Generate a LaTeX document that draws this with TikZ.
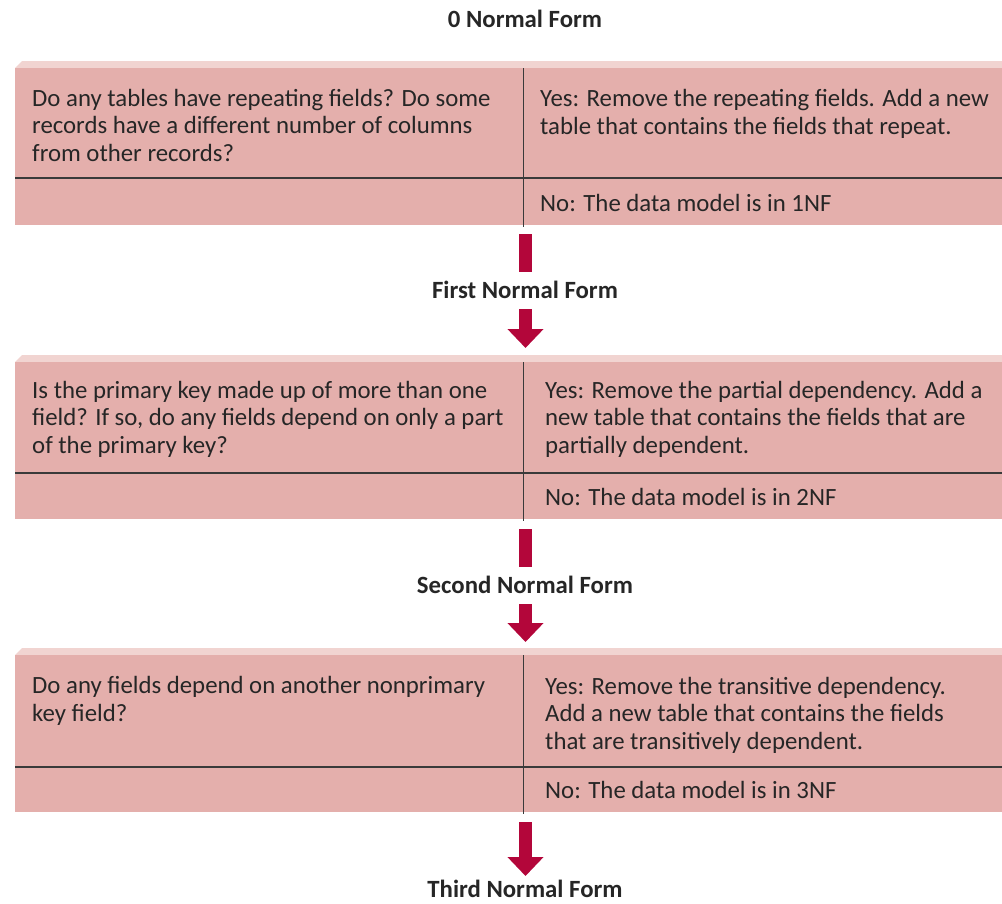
\documentclass[tikz,border=0pt]{standalone}
\usepackage{fontspec}
\setmainfont{Carlito}
\usetikzlibrary{arrows.meta}

\definecolor{cellpink}{HTML}{E4AFAC}
\definecolor{striplight}{HTML}{F1D4D1}
\definecolor{crimson}{HTML}{B3063A}
\definecolor{rule}{HTML}{3A3A3A}

\tikzset{
  % cell texts are placed by the baseline of their last line
  celltext/.style={anchor=base west, inner sep=0pt, align=left,
    font=\fontsize{24.8}{27.4}\selectfont, text=black!85},
  formtitle/.style={inner sep=0pt, font=\bfseries\fontsize{24.8}{27}\selectfont, text=black!85},
  gridline/.style={draw=rule, line width=1.8pt},
  bar/.style={draw=crimson, line width=13pt},
  downarrow/.style={draw=crimson, line width=13pt,
    -{Triangle[width=35pt, length=19pt]}}
}

% one decision table: #1 top edge of the body, #2 row divider
\newcommand{\decisiontable}[2]{%
  % light bevel strip along the top
  \fill[striplight] (15,#1) -- (22,#1-7) -- (1002,#1-7) -- (1002,#1) -- cycle;
  % body
  \fill[cellpink] (15,#1) rectangle (1002,#1+157);
  % row divider and column divider
  \draw[gridline] (15,#2) -- (1002,#2);
  \draw[gridline] (523.5,#1) -- (523.5,#1+159);
}

\begin{document}
\begin{tikzpicture}[x=1pt, y=-1pt]
\useasboundingbox (0,0) rectangle (1002,903);

% titles
\node[formtitle] (nf0) at (525,19) {0 Normal Form};
\node[formtitle] (nf1) at (525,290) {First Normal Form};
\node[formtitle] (nf2) at (525,585) {Second Normal Form};
\node[formtitle] (nf3) at (525,889) {Third Normal Form};

% table 1
\decisiontable{68}{178}
\node[celltext] (q1) at (32,161) {Do any tables have repeating fields? Do some\\records have a different number of columns\\from other records?};
\node[celltext] (y1) at (540,134) {Yes: Remove the repeating fields. Add a new\\table that contains the fields that repeat.};
\node[celltext] (n1) at (540,211) {No: The data model is in 1NF};

% table 2
\decisiontable{362}{473}
\node[celltext] (q2) at (32,453) {Is the primary key made up of more than one\\field? If so, do any fields depend on only a part\\of the primary key?};
\node[celltext] (y2) at (545,453) {Yes: Remove the partial dependency. Add a\\new table that contains the fields that are\\partially dependent.};
\node[celltext] (n2) at (545,505) {No: The data model is in 2NF};

% table 3
\decisiontable{655}{767}
\node[celltext] (q3) at (32,721) {Do any fields depend on another nonprimary\\key field?};
\node[celltext] (y3) at (545,749) {Yes: Remove the transitive dependency.\\Add a new table that contains the fields\\that are transitively dependent.};
\node[celltext] (n3) at (545,798) {No: The data model is in 3NF};

% connectors between the tables and the form titles
\coordinate (b1s) at (525.5,234);
\coordinate (b1e) at (525.5,272);
\coordinate (a1s) at (525.5,309);
\coordinate (a1e) at (525.5,348);
\coordinate (b2s) at (525.5,529);
\coordinate (b2e) at (525.5,567);
\coordinate (a2s) at (525.5,604);
\coordinate (a2e) at (525.5,642);
\coordinate (a3s) at (525.5,822);
\coordinate (a3e) at (525.5,876);

\draw[bar] (b1s) -- (b1e);
\draw[downarrow] (a1s) -- (a1e);
\draw[bar] (b2s) -- (b2e);
\draw[downarrow] (a2s) -- (a2e);
\draw[downarrow] (a3s) -- (a3e);
\end{tikzpicture}
\end{document}
